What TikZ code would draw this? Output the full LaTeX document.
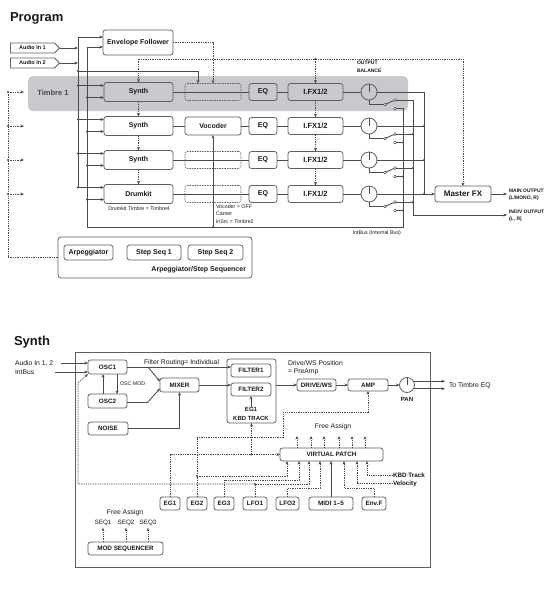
\documentclass[tikz,border=0pt]{standalone}
\usepackage{fontspec}
\setmainfont{Liberation Sans}
\usetikzlibrary{arrows.meta,shapes.symbols,calc}
\definecolor{band}{RGB}{200,200,206}
\definecolor{lc}{RGB}{75,75,75}
\definecolor{bc}{RGB}{95,95,95}
\definecolor{tx}{RGB}{25,25,25}
\begin{document}
\begin{tikzpicture}[x=1pt,y=-1pt,
  every node/.style={text=tx, inner sep=0pt, outer sep=0pt},
  bx/.style={draw=bc, line width=0.8pt, rounded corners=2.5pt, fill=white,
     font=\bfseries\fontsize{7}{8}\selectfont, minimum height=17pt},
  sbx/.style={bx, font=\bfseries\fontsize{6.3}{7}\selectfont, minimum height=13pt},
  dbx/.style={draw=bc, line width=0.6pt, rounded corners=2.5pt, dash pattern=on 1.5pt off 1pt, minimum height=17pt, minimum width=56pt},
  kn/.style={draw=bc, line width=0.8pt, circle, minimum size=16pt, fill=white},
  sw/.style={draw=lc, line width=0.5pt, circle, minimum size=2.8pt, fill=white},
  jd/.style={circle, fill=lc, minimum size=2.4pt},
  ln/.style={draw=lc, line width=0.85pt},
  tip/.style={-{Stealth[length=3.6pt,width=3pt]}},
  ar/.style={ln, tip},
  dl/.style={draw=lc, line width=0.65pt, dash pattern=on 1.3pt off 1pt},
  dar/.style={dl, tip},
  lab/.style={font=\fontsize{6.8}{8}\selectfont},
  blab/.style={font=\bfseries\fontsize{5}{7.5}\selectfont},
  slab/.style={font=\fontsize{5.3}{7.5}\selectfont},
  ttl/.style={font=\bfseries\fontsize{13}{15}\selectfont, anchor=base west},
]
\fill[white] (0,0) rectangle (558,600);
\useasboundingbox (0,0) rectangle (558,600);

% ================= PROGRAM =================
\node[ttl] (ptitle) at (10,21) {Program};
\node[signal, signal to=east, draw=bc, line width=0.8pt, fill=white, minimum width=49pt, minimum height=10pt, font=\bfseries\fontsize{5.5}{6}\selectfont] (ain1) at (32.5,48) {Audio In 1};
\node[signal, signal to=east, draw=bc, line width=0.8pt, fill=white, minimum width=49pt, minimum height=10pt, font=\bfseries\fontsize{5.5}{6}\selectfont] (ain2) at (32.5,63) {Audio In 2};
\node[bx, minimum width=70pt, minimum height=25pt] (envf) at (138,42.5) {Envelope Follower};

\node[fill=band, rounded corners=5pt, minimum width=380pt, minimum height=35pt] (band) at (218,93.5) {};
\node[font=\bfseries\fontsize{7.5}{8}\selectfont, text=lc] (tlab) at (53,93) {Timbre 1};

\coordinate (bA) at (78,37);
\coordinate (bB) at (87,47);
\coordinate (ibL) at (87,227);
\coordinate (ibR) at (403,227);
\coordinate (c413) at (413,215);
\coordinate (c424) at (424,194);
\coordinate (indv) at (507,215);
\coordinate (mo) at (507,194);

\foreach \i/\r/\f/\t in {1/92/band/Synth,2/126/white/Synth,3/160/white/Synth,4/194/white/Drumkit}{
  \node[bx, fill=\f, minimum width=69pt, minimum height=19pt] (s\i) at (138.5,\r) {\t};
  \node[bx, fill=\f, minimum width=28pt] (eq\i) at (263,\r) {EQ};
  \node[bx, fill=\f, minimum width=55pt, font=\bfseries\fontsize{7.5}{8}\selectfont] (fx\i) at (315.5,\r) {I.FX1/2};
  \node[kn, fill=\f] (k\i) at (369,\r) {};
  \draw[ln] (k\i.center) -- (k\i.north);
  \node[sw] (pv\i) at (385,\r+12.5) {};
  \node[sw] (up\i) at (395,\r+8) {};
  \node[sw] (lo\i) at (395,\r+16.5) {};
  \draw[ln] (k\i.south) |- (pv\i);
  \draw[ln] (pv\i) -- (up\i);
  \coordinate (ia\i) at ($(s\i.west)+(0,-6.5)$);
  \coordinate (ib\i) at ($(s\i.west)+(0,5.5)$);
  \node[jd] (ja\i) at (ia\i -| bA) {};
  \node[jd] (jb\i) at (ib\i -| bB) {};
  \draw[ar] (ja\i.center) -- (ia\i);
  \draw[ar] (jb\i.center) -- (ib\i);
  \draw[ln] (eq\i) -- (fx\i);
  \draw[ln] (fx\i) -- (k\i);
  \coordinate (lt\i) at (24,\r);
  \node[jd] (jl\i) at (8,\r) {};
  \draw[dar] (jl\i.center) -- (lt\i);
}
\foreach \i/\r in {1/92,3/160,4/194}{
  \node[dbx] (d\i) at (213,\r) {};
  \draw[ln] (s\i) -- (eq\i);
}
\node[bx, minimum width=56pt, minimum height=18pt] (voc) at (213,126) {Vocoder};
\draw[ln] (s2) -- (voc);
\draw[ln] (voc) -- (eq2);

% synth dotted chain and IFX chain
\draw[dar] (s1.south) -- (s2.north);
\draw[dar] (s2.south) -- (s3.north);
\draw[dar] (s3.south) -- (s4.north);
\draw[dar] (fx1.south) -- (fx2.north);
\draw[dar] (fx2.south) -- (fx3.north);
\draw[dar] (fx3.south) -- (fx4.north);

% audio inputs and buses
\draw[ar] (ain1.east) -- (ain1.east -| bA);
\draw[ar] (ain2.east) -- (ain2.east -| bA);
\draw[ln] (bA) -- (ja4.center);
\draw[ar] (bA) -- (bA -| envf.west);
\draw[ar] (bB) -- (bB -| envf.west);
\node[jd] (j71) at (78,71) {};
\draw[ar] (j71.center) -| ($(d1.north)+(-15,0)$);
\draw[dar] (envf.east) -| (d1.north);

% modulation dotted line
\coordinate (m0) at (138.5,59);
\node[jd] (jm) at (m0 -| fx1.north) {};
\draw[dl] (m0) -- (m0 -| 463,0);
\draw[dar] (m0) -- (s1.north);
\draw[dar] (jm.center) -- (fx1.north);

% master FX
\node[bx, minimum width=56pt, minimum height=16pt, font=\bfseries\fontsize{8}{9}\selectfont] (mfx) at (463,194) {Master FX};
\draw[dar] (m0 -| mfx.north) -- (mfx.north);

% outputs: row 1 corners
\draw[ln] (k1) -| (c424);
\draw[ar] (c424) -- (mfx.west);
\draw[ar] (up1) -| (c413) -- (indv);
\draw[ln] (lo1) -| (ibR) -- (ibL) -- (bB);
\foreach \i in {2,3,4}{
  \node[jd] (jk\i) at (k\i -| c424) {};
  \draw[ln] (k\i) -- (jk\i.center);
  \node[jd] (ju\i) at (up\i -| c413) {};
  \draw[ln] (up\i) -- (ju\i.center);
  \node[jd] (jo\i) at (lo\i -| ibR) {};
  \draw[ln] (lo\i) -- (jo\i.center);
}
\draw[ar] (mfx.east) -- (mo);
\node[blab, anchor=west, align=left] (molab) at (509,195) {MAIN OUTPUT\\(L/MONO, R)};
\node[blab, anchor=west, align=left] (iolab) at (509,216) {INDIV OUTPUT\\(L, R)};
\node[blab, anchor=west, align=left] (oblab) at (357,67) {OUTPUT\\BALANCE};

% vocoder carrier
\node[jd] (jv) at (voc.south |- ibL) {};
\draw[ar] (jv.center) -- (voc.south);
\node[slab, anchor=north west, align=left] (voclab) at (216,204.5) {Vocoder = OFF\\Carrier\\InSrc = Timbre2};
\node[slab] (dklab) at (139,209) {Drumkit Timbre = Timbre4};
\node[slab, anchor=east] (iblab) at (401,233) {IntBus (Internal Bus)};

% arpeggiator
\node[draw=bc, line width=0.8pt, rounded corners=3pt, minimum width=194pt, minimum height=41pt] (arpbox) at (155,257.5) {};
\node[bx, minimum width=49pt, minimum height=15pt] (arp) at (88.5,252.5) {Arpeggiator};
\node[bx, minimum width=54pt, minimum height=15pt] (ss1) at (154,252.5) {Step Seq 1};
\node[bx, minimum width=55pt, minimum height=15pt] (ss2) at (215.5,252.5) {Step Seq 2};
\node[font=\bfseries\fontsize{7}{8}\selectfont, anchor=east] (arplab) at (246,269.5) {Arpeggiator/Step Sequencer};
\draw[dl] (jl1.center) |- (arpbox.west);

% ================= SYNTH =================
\node[ttl] (stitle) at (14,345) {Synth};
\node[draw=bc, line width=0.9pt, minimum width=355pt, minimum height=215pt] (sbox) at (252.5,459.5) {};

\node[lab, anchor=west] (ain12) at (15,363) {Audio In 1, 2};
\node[lab, anchor=west] (ibus) at (15,372) {IntBus};
\coordinate (aiS) at (61,363);
\coordinate (ibS) at (55,372);

\node[sbx, minimum width=39pt, minimum height=14pt] (osc1) at (107.5,367) {OSC1};
\node[sbx, minimum width=39pt, minimum height=14pt] (osc2) at (107.5,401) {OSC2};
\node[sbx, minimum width=40pt, minimum height=13pt] (noise) at (108,428.5) {NOISE};
\node[sbx, minimum width=39pt, minimum height=14pt] (mixer) at (179.5,385) {MIXER};
\draw[ar] (aiS) -- (aiS -| osc1.west);
\draw[ar] (ibS) -- (ibS -| osc1.west);
\draw[ar] (osc2.north -| 103,0) -- (osc1.south -| 103,0);
\draw[ar] (osc1.south -| 117,0) -- (osc2.north -| 117,0);
\node[font=\fontsize{5.3}{6}\selectfont, anchor=west] (oscmod) at (120,384) {OSC MOD};

\node[draw=bc, line width=0.8pt, rounded corners=2.5pt, minimum width=49pt, minimum height=64pt] (fbox) at (251.5,391) {};
\node[sbx, minimum width=40pt] (filter1) at (251,370.5) {FILTER1};
\node[sbx, minimum width=40pt] (filter2) at (251,389.5) {FILTER2};
\node[font=\bfseries\fontsize{6}{9}\selectfont, align=center] (egk) at (251,413.5) {EG1\\KBD TRACK};
\draw[ar] (egk.north) -- (filter2.south);

\coordinate (j1) at (148,367);
\coordinate (j2) at (148,402);
\draw[ln] (osc1.east) -- (j1);
\draw[ar] (j1) -- ($(mixer.west)+(0,-3.5)$);
\draw[ar] (j1) -- (j1 -| filter1.west);
\draw[ln] (osc2.east |- j2) -- (j2);
\draw[ar] (j2) -- ($(mixer.west)+(0,3.5)$);
\draw[ar] (noise.east) -| (mixer.south);
\draw[ar] (mixer.east) -- (mixer.east -| filter2.west);
\node[lab, anchor=west] (frlab) at (144,363) {Filter Routing= Individual};

\node[sbx, minimum width=39pt, minimum height=12pt] (drive) at (316.5,385) {DRIVE/WS};
\node[sbx, minimum width=40pt, minimum height=12pt] (amp) at (368,385) {AMP};
\node[draw=bc, line width=0.8pt, circle, minimum size=15pt, fill=white] (pan) at (407,385) {};
\draw[ln] (pan.center) -- (pan.north);
\node[font=\bfseries\fontsize{6}{7}\selectfont] (panlab) at (407,399) {PAN};
\draw[ar] (fbox.east |- drive) -- (drive.west);
\draw[ar] (drive.east) -- (amp.west);
\draw[ar] (amp.east) -- (pan.west);
\coordinate (teq) at (445,385);
\draw[ar] (pan.30) -- (pan.30 -| teq);
\draw[ar] (pan.-30) -- (pan.-30 -| teq);
\node[lab, anchor=west] (teqlab) at (449,386) {To Timbre EQ};
\node[lab, anchor=west, align=left] (dwlab) at (288,367.5) {Drive/WS Position\\= PreAmp};

% virtual patch
\node[lab] (falab) at (333,427) {Free Assign};
\node[sbx, minimum width=103pt] (vp) at (331.5,454.5) {VIRTUAL PATCH};
\foreach \x in {297,311,324,339,352,365}{
  \draw[dar] (vp.north -| \x,0) -- (\x,436);
}

\node[sbx, minimum width=20pt] (eg1) at (170,503.5) {EG1};
\node[sbx, minimum width=20pt] (eg2) at (197,503.5) {EG2};
\node[sbx, minimum width=20pt] (eg3) at (224,503.5) {EG3};
\node[sbx, minimum width=24pt] (lfo1) at (255,503.5) {LFO1};
\node[sbx, minimum width=23pt] (lfo2) at (287.5,503.5) {LFO2};
\node[sbx, minimum width=44pt] (midi) at (331,503.5) {MIDI 1--5};
\node[sbx, minimum width=24pt] (envf2) at (374,503.5) {Env.F};

% EG1
\draw[dar] (eg1.north) |- (vp.west);
\node[jd] (jeg1) at (fbox.south |- vp.west) {};
\draw[dar] (jeg1.center) -- (fbox.south);
% EG2
\draw[dar] (eg2.north) |- (283,437) -- (283,412) -| (amp.south);
\node[jd] (jeg2) at (eg2.north |- 0,476) {};
\draw[dar] (jeg2.center) -| (vp.south -| 287,0);
% EG3
\draw[dar] (eg3.north) |- (299,480) -- (vp.south -| 299,0);
% LFO1
\node[jd] (jlfo) at (lfo1.north |- 0,484) {};
\draw[dar] (lfo1.north) |- (309,484) -- (vp.south -| 309,0);
\draw[dar] (jlfo.center) -- (78,484) -- (78,383) -- (osc1.south west);
% LFO2
\draw[dar] (lfo2.north) |- (320,488) -- (vp.south -| 320,0);
% MIDI
\draw[ar] (midi.north) -- (vp.south -| midi.north);
% Env.F
\draw[dar] (envf2.north) |- (344,488) -- (vp.south -| 344,0);
% KBD / Velocity
\node[font=\bfseries\fontsize{6.3}{7}\selectfont, anchor=west] (kbdlab) at (393,475) {KBD Track};
\node[font=\bfseries\fontsize{6.3}{7}\selectfont, anchor=west] (vellab) at (393,483.5) {Velocity};
\draw[dar] (kbdlab.west) -| (vp.south -| 367,0);
\draw[dar] (vellab.west) -| (vp.south -| 357,0);

% mod sequencer
\node[sbx, minimum width=75pt] (mseq) at (125.5,548.5) {MOD SEQUENCER};
\node[lab] (fa2) at (125,513) {Free Assign};
\node[font=\fontsize{6.3}{7}\selectfont] (sq1) at (103,523) {SEQ1};
\node[font=\fontsize{6.3}{7}\selectfont] (sq2) at (126,523) {SEQ2};
\node[font=\fontsize{6.3}{7}\selectfont] (sq3) at (148,523) {SEQ3};
\draw[dar] (mseq.north -| sq1) -- ($(sq1.south)+(0,2)$);
\draw[dar] (mseq.north -| sq2) -- ($(sq2.south)+(0,2)$);
\draw[dar] (mseq.north -| sq3) -- ($(sq3.south)+(0,2)$);
\end{tikzpicture}
\end{document}
